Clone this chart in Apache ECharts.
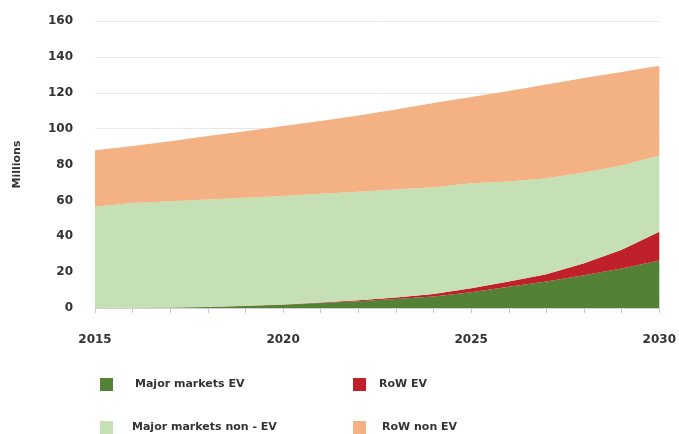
<!DOCTYPE html>
<html><head><meta charset="utf-8">
<script src="https://cdn.jsdelivr.net/npm/echarts@6/dist/echarts.min.js"></script>
<style>html,body{margin:0;padding:0;background:#fff}#c{width:679px;height:434px}</style>
</head><body><div id="c"></div>
<script>
var years = ['2015','2016','2017','2018','2019','2020','2021','2022','2023','2024','2025','2026','2027','2028','2029','2030'];
var yTicks = [0,20,40,60,80,100,120,140,160];
var majorEV = [0.05,0.1,0.3,0.6,1.1,1.8,2.8,3.8,5.0,6.4,8.8,11.8,14.8,18.2,22,26.5];
var rowEV = [0,0,0,0,0.1,0.2,0.3,0.5,0.8,1.4,2.2,3.0,4.0,6.8,10.5,16];
var majorNonEV = [56.45,58.4,59.2,59.9,60.3,60.5,60.6,60.5,60.2,59.5,58.5,55.7,53.5,50.5,47,42.5];
var rowNonEV = [31.5,31.8,33.4,35.4,37,38.9,40.5,42.5,44.6,47,48.2,50.5,52.3,52.7,52,50];
var names = ['Major markets EV','RoW EV','Major markets non - EV','RoW non EV'];
var colors = ['#538135','#c0202a','#c5e0b4','#f4b183'];
var seriesData = [majorEV,rowEV,majorNonEV,rowNonEV];

var font = '"DejaVu Sans", sans-serif';
var chart = echarts.init(document.getElementById('c'));
var legendPos = [[100,378],[353,378],[100,421],[353,421]];
var textPad = [[0,0,0,17],[0,0,0,8],[0,0,0,14],[0,0,0,11]];
var legends = names.map(function(n,i){
  return {
    data:[n], left:legendPos[i][0], top:legendPos[i][1], padding:0,
    itemWidth:13, itemHeight:13, icon:'rect', selectedMode:false,
    textStyle:{fontFamily:font, fontWeight:'bold', fontSize:11, color:'#333', padding:textPad[i]}
  };
});
chart.setOption({
  animation:false,
  backgroundColor:'#fff',
  legend: legends,
  grid:{left:95, right:17, top:21, bottom:126},
  xAxis:{
    type:'category', data:years, boundaryGap:false,
    axisLine:{lineStyle:{color:'#d0d0d0'}},
    axisTick:{show:true, length:5, interval:0, lineStyle:{color:'#c8c8c8'}},
    axisLabel:{interval:4, margin:26, fontFamily:font, fontWeight:'bold', fontSize:12, color:'#333'},
    splitLine:{show:false}
  },
  yAxis:{
    type:'value', min:0, max:160, interval:20,
    name:'Millions', nameLocation:'middle', nameGap:72, nameRotate:90,
    nameTextStyle:{fontFamily:font, fontWeight:'bold', fontSize:11, color:'#333'},
    axisLine:{show:false}, axisTick:{show:false},
    axisLabel:{margin:22, fontFamily:font, fontWeight:'bold', fontSize:12, color:'#333'},
    splitLine:{lineStyle:{color:'#e8e8e8'}}
  },
  series: seriesData.map(function(d,i){
    return {
      name:names[i], type:'line', stack:'total', data:d, symbol:'none',
      lineStyle:{width:0}, itemStyle:{color:colors[i]},
      areaStyle:{color:colors[i], opacity:1}
    };
  })
});
</script></body></html>
